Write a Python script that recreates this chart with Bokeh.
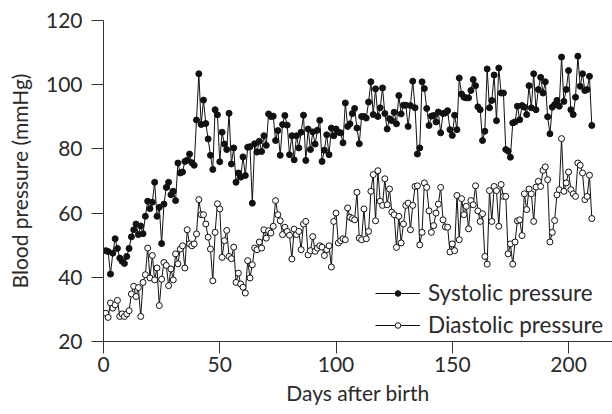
from bokeh.plotting import figure
from bokeh.models import Range1d, FixedTicker, Legend
from bokeh.embed import file_html
from bokeh.resources import INLINE

# Systolic pressure (mmHg), one reading per day after birth
systolic = [
    48.3, 48, 41, 47.5, 52, 49, 46, 45, 44.3, 46.5, 49, 52.6, 54.8, 56.6, 53.3, 56, 53.6, 59, 63.7, 61.4,
    63.4, 69.6, 59, 61.8, 50.5, 62.8, 68, 69.6, 65.7, 66.8, 63.9, 75.6, 72.5, 72.8, 76.1, 76.5,
    78.4, 75.7, 74.9, 89, 103.4, 87.6, 95.2, 87.9, 83.1, 78, 73.6, 92.2, 90.6, 76, 85.2, 81.5, 79.8, 91.1,
    75.3, 80.3, 69.6, 72.5, 71.2, 77.5, 71.7, 80.5, 80.7, 63.1, 81.6, 79, 82.4, 79.2, 84.1, 81.1, 90.9, 90.1,
    90.2, 82.6, 85.7, 78, 87.6, 90.4, 87.4, 78.2, 84.1, 76.6, 84.1, 80.3, 85.2, 90.5, 76.4, 86.2, 79.8, 85.3,
    81.5, 85.8, 88.9, 76.1, 79.6, 84.4, 78.2, 86.5, 84.1, 86.2, 85.2, 85, 81.9, 94.3, 87, 87.8, 91, 92.6,
    86.5, 81.6, 90.1, 90.1, 89.6, 94.6, 100.9, 90.7, 98.7, 90.1, 92.8, 99,
    91, 86.2, 89.4, 88.8, 91.4, 87.8, 96.6, 90.9, 93.6, 93.6, 87, 93.5, 101.1, 92.8, 78.4, 80.3, 100.9, 98.8,
    92.6, 87.3, 90.2, 90.4, 88.4, 91.5, 85, 91, 91.2, 91.9, 86, 84.2, 90.5, 86, 102.1, 97.1, 96.1, 95.9, 95.9,
    98.2, 101.6, 99.7, 93.1, 92.2, 82.6, 85.5, 104.9, 92.8, 95.1, 103, 88.8, 105.2, 97.4, 97.4, 79.8, 79.3,
    77.4, 88.1, 88.4, 93.3, 89.1, 93.5, 93, 90.7, 99.7, 92.8, 103.4, 92.2, 98.5, 102.3, 97.4, 100.9, 90, 84.7,
    93, 93.8, 95.1, 93.3,
    108.6, 94.8, 98.5, 104.4, 92.2, 90.7, 96.1, 108.9, 99.5, 103.4, 98.2, 98.5, 102.6, 87.3,
]

# Diastolic pressure (mmHg)
diastolic = [
    28.8, 27.5, 32, 30.4, 31.4, 32.8, 27.8, 28.6, 27.8, 28.6, 29.6, 34.8, 37.2, 34, 36.8, 27.8, 38.4, 40.8,
    49.1, 39.8, 46.8, 39.2, 42.9, 31.2, 39.4, 44.6, 43.7, 37.4, 42.6, 39.2, 47.3, 44.2, 48.8, 49.8, 42.9,
    54.8, 50.4, 49.8, 50.4, 53.5, 64.2, 59.5, 59.5, 56.6, 52.5, 48.8, 38.9, 54, 62.9, 61.3, 46.2, 51.4, 54.6,
    46.5, 45.8, 49.4, 38.4, 41.3, 37.9, 36.9, 35.1, 45.2, 39.8, 43.9, 49.1, 48.6, 51, 49.1, 54.8, 52.2, 54.5,
    53.8, 55.9, 63.9, 59.5, 57.6, 53.3, 55.6, 54.3, 53.1, 45.7, 55, 53.3, 54.3, 48.6, 56.6, 57.4, 47, 48.3,
    52.7, 48.1, 49.1, 49.8, 49.4, 46.8, 48.6, 49.8, 43.2, 57.4, 60, 50.7, 51.4, 52, 51.7, 61.6, 58.7, 58.3,
    57.9, 66.5, 52.2, 51.7, 61.3, 52, 54.3, 66.8, 72, 57.6, 73.2, 63.7, 62.4, 70.7, 62.6, 67.5, 60.3, 59.5,
    49.3, 59, 50.7, 56.6, 62.4, 63.1, 54.8, 62.4, 68.3, 68.5, 50.1, 54, 69.4, 68, 60.7, 54, 56.1, 60, 62.8,
    68, 57.9, 55.7, 55.6, 47.9, 50.4, 48.3, 65.5, 51.7, 64.5, 59.5, 62.1, 55.1, 63.9, 62.6, 68.5, 60.7, 57.4,
    59.8, 46.5, 44.1, 67, 57.4, 68.3, 67, 55.9, 68.9, 65.2, 65.2, 47.3, 50.4, 44.1, 51, 57.6, 57.9, 53, 66,
    61.1, 67.5, 66, 57.4, 68.1, 69.9, 68.3, 73.3, 74.4, 70.4, 51, 54, 57.7, 65.7, 67.3, 83.2, 66.8, 69.4,
    72.8, 67.3, 66, 65.2, 75.6, 74.9, 72.5, 64.2, 65.2, 71.8, 58.3,
]

days_s = list(range(1, len(systolic) + 1))
days_d = list(range(1, len(diastolic) + 1))

x_ticks = [0, 50, 100, 150, 200]
y_ticks = [20, 40, 60, 80, 100, 120]

FONT = "Lato"
TXT = "#2a2a2a"
AX = "#333333"

p = figure(width=612, height=414, output_backend="svg", toolbar_location=None,
           x_range=Range1d(0, 218.9), y_range=Range1d(20, 120),
           min_border_left=103, min_border_right=0, min_border_top=20, min_border_bottom=73)
p.outline_line_color = None
p.background_fill_color = "white"
p.border_fill_color = "white"
p.xgrid.visible = False
p.ygrid.visible = False

for ax in (p.xaxis[0], p.yaxis[0]):
    ax.axis_line_color = AX
    ax.axis_line_width = 1
    ax.major_tick_line_color = AX
    ax.major_tick_line_width = 1
    ax.major_tick_out = 12
    ax.major_tick_in = 0
    ax.minor_tick_line_color = None
    ax.major_label_text_font = FONT
    ax.major_label_text_font_size = "21px"
    ax.major_label_text_color = TXT
    ax.axis_label_text_font = FONT
    ax.axis_label_text_font_size = "21px"
    ax.axis_label_text_font_style = "normal"
    ax.axis_label_text_color = TXT

p.xaxis.ticker = FixedTicker(ticks=x_ticks)
p.yaxis.ticker = FixedTicker(ticks=y_ticks)
p.xaxis.axis_label = "Days after birth"
p.yaxis.axis_label = "Blood pressure (mmHg)"
p.xaxis.major_label_standoff = 3
p.xaxis.axis_label_standoff = 5
p.yaxis.major_label_standoff = 9
p.yaxis.axis_label_standoff = 11

ls = p.line(days_s, systolic, line_color="#111111", line_width=1)
ms = p.scatter(days_s, systolic, size=6, fill_color="#111111", line_color="#111111", line_width=1)
ld = p.line(days_d, diastolic, line_color="#111111", line_width=1)
md = p.scatter(days_d, diastolic, size=6, fill_color="white", line_color="#111111", line_width=1)

legend = Legend(items=[("Systolic pressure", [ls, ms]), ("Diastolic pressure", [ld, md])],
                location=(272, 3))
legend.border_line_color = None
legend.background_fill_alpha = 0
legend.label_text_font = FONT
legend.label_text_font_size = "22.5px"
legend.label_text_color = TXT
legend.glyph_width = 45
legend.glyph_height = 14
legend.label_height = 27
legend.label_standoff = 8
legend.spacing = 5
legend.padding = 0
legend.margin = 0
p.add_layout(legend, "center")

open("out.html", "w").write(file_html(p, INLINE))
